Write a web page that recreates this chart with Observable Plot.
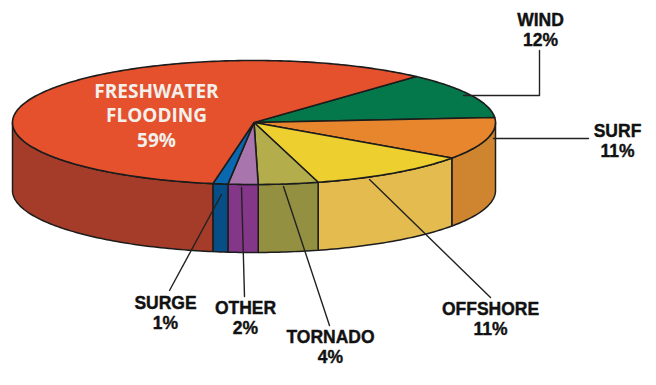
<!DOCTYPE html>
<html><head><meta charset="utf-8">
<script src="https://cdn.jsdelivr.net/npm/d3@7"></script>
<script src="https://cdn.jsdelivr.net/npm/@observablehq/plot@0.6"></script>
<style>html,body{margin:0;padding:0;background:#fff}svg{display:block}</style>
</head><body><div id="chart"></div>
<script>
const categories = ["WIND","SURF","OFFSHORE","TORNADO","OTHER","SURGE","FRESHWATER FLOODING"];
const shares = [12,11,11,4,2,1,59];
const topColors = ["#04784a","#e8862e","#edcf30","#b4ad4c","#a875ac","#0a68b0","#e5512c"];
const sideColors = ["#04784a","#cf8430","#e3bb4e","#939042","#843688","#064e85","#a43c29"];
const labelX = [540,617,490,330,245,165];
const labelY = [29,140,318,346,317,312];
const leaders = [
  [[463,95],[539,95],[539,50]],
  [[493,138],[588,138]],
  [[369,179],[490,297]],
  [[283,186],[329,325]],
  [[241,187],[244,296]],
  [[221,194],[169,290]]
];
const pie = {cx:253.5, cy:122, rx:241.5, ry:62, depth:68, start:47.8};

const pt = (deg, drop=0) => ({x: pie.cx + pie.rx*Math.cos(deg*Math.PI/180), y: pie.cy - pie.ry*Math.sin(deg*Math.PI/180) + drop});
const arc = (a0, a1, drop=0) => {
  const n = Math.max(1, Math.ceil(Math.abs(a1-a0)));
  return d3.range(n+1).map(i => pt(a0 + (a1-a0)*i/n, drop));
};
let cum = pie.start;
const tops = [], sides = [];
categories.forEach((c,i) => {
  const a0 = cum, a1 = cum - shares[i]*3.6;
  cum = a1;
  const ring = [{x:pie.cx,y:pie.cy}, ...arc(a0,a1), {x:pie.cx,y:pie.cy}];
  ring.forEach(p => tops.push({...p, key:c, color:topColors[i]}));
  const s0 = Math.min(a0,0), s1 = Math.max(a1,-180);
  if (s0 > s1) {
    const wall = [...arc(s0,s1), ...arc(s1,s0,pie.depth)];
    wall.push(wall[0]);
    wall.forEach(p => sides.push({...p, key:c, color:sideColors[i]}));
  }
});
const leaderRows = leaders.flatMap((l,i) => l.map(([x,y]) => ({x,y,key:categories[i]})));
const labelRows = labelX.map((x,i) => ({x, y:labelY[i], text:`${categories[i]}\n${shares[i]}%`}));
const inner = [{x:156,y:114,text:`FRESHWATER\nFLOODING\n${shares[6]}%`}];

const chart = Plot.plot({
  width:656, height:385, margin:0,
  x:{domain:[0,656], axis:null},
  y:{domain:[385,0], axis:null},
  color:{type:"identity"},
  marks:[
    Plot.line(sides,{x:"x",y:"y",z:"key",fill:"color",stroke:"#1c1c1c",strokeWidth:1.5,strokeLinejoin:"round"}),
    Plot.line(tops,{x:"x",y:"y",z:"key",fill:"color",stroke:"#1c1c1c",strokeWidth:1.6,strokeLinejoin:"round"}),
    Plot.line(leaderRows,{x:"x",y:"y",z:"key",stroke:"#222",strokeWidth:1.4}),
    Plot.text(labelRows,{x:"x",y:"y",text:"text",fontFamily:"Liberation Sans",fontWeight:"bold",fontSize:17.5,lineHeight:1.18,fill:"#111",stroke:"#111",strokeWidth:0.4}),
    Plot.text(inner,{x:"x",y:"y",text:"text",fontFamily:"Open Sans",fontWeight:"bold",fontSize:19,lineHeight:1.29,fill:"#f3f0ec"})
  ]
});
document.getElementById("chart").append(chart);
</script></body></html>
